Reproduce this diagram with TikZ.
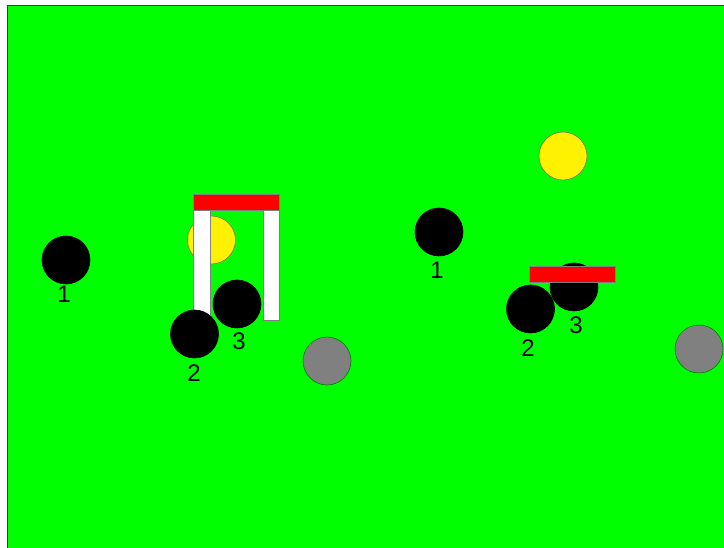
\documentclass[tikz,border=0pt]{standalone}
\usepackage{fontspec}
\setmainfont{Liberation Sans}
\begin{document}
\begin{tikzpicture}[x=1pt,y=-1pt,
  ball/.style={circle,draw=#1!60!black,line width=0.6pt,inner sep=0pt,minimum size=48pt},
  player/.style={ball=black,fill=black},
  ballY/.style={circle,draw=black!60!yellow,fill=yellow,line width=0.6pt,inner sep=0pt,minimum size=48pt},
  ballG/.style={circle,draw=black!50!green,fill=gray,line width=0.6pt,inner sep=0pt,minimum size=48pt},
  bar/.style={draw=black!50,fill=red,line width=0.5pt},
  post/.style={draw=black!50,fill=white,line width=0.5pt},
  lbl/.style={font=\fontsize{24}{24}\selectfont,inner sep=0pt}]
\useasboundingbox (0,0) rectangle (724,548);
\fill[green] (7,6) rectangle (726,550);
\draw[black!60!green,line width=1pt] (7,550) -- (7,6) -- (726,6);
% left goal
\node[ballY] (y1) at (211.5,240) {};
\filldraw[post] (193,210) rectangle (210,318);
\filldraw[post] (263,210) rectangle (279,320);
\filldraw[bar] (193,194) rectangle (279,210);
% right yellow
\node[ballY] (y2) at (563,156) {};
% players
\node[player] (p1a) at (66,260) {};
\node[lbl] (l1a) at (64,294) {1};
\node[player] (p3a) at (237,304) {};
\node[lbl] (l3a) at (239,341.5) {3};
\node[player] (p2a) at (194.5,334) {};
\node[lbl] (l2a) at (194,373.5) {2};
\node[player] (p1b) at (439,232) {};
\node[lbl] (l1b) at (437,270) {1};
\node[player] (p3b) at (574,287) {};
\node[lbl] (l3b) at (576,325.5) {3};
\filldraw[bar] (529,266) rectangle (615,282);
\node[player] (p2b) at (530.5,309) {};
\node[lbl] (l2b) at (528,348) {2};
% gray balls
\node[ballG] (g1) at (327,361) {};
\node[ballG] (g2) at (699,349) {};
\end{tikzpicture}
\end{document}
